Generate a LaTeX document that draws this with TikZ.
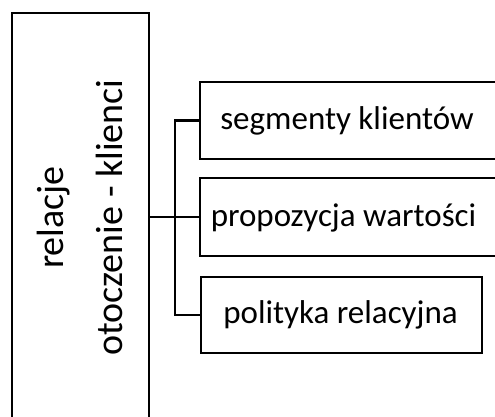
\documentclass[tikz,border=0pt]{standalone}
\usepackage{fontspec}
\setmainfont{Carlito}
\begin{document}
\begin{tikzpicture}[x=1pt,y=-1pt,
  frame/.style={draw=black,line width=2.9pt,rectangle,inner sep=0pt},
  link/.style={draw=black,line width=2.9pt},
  sidetext/.style={font=\fontsize{38}{44}\selectfont,rotate=90,anchor=base,inner sep=0pt},
  itemtext/.style={font=\fontsize{33}{39}\selectfont,anchor=base,inner sep=0pt}]
\useasboundingbox (0,0) rectangle (495,417);
\begin{scope}
\clip (0,0) rectangle (495,417);
% tall box on the left
\node[frame,minimum width=137pt,minimum height=420pt] (rel) at (80.5,223) {};
\node[sidetext] (l1) at (63,217.5) {relacje};
\node[sidetext] (l2) at (122,217.5) {otoczenie - klienci};
% three boxes on the right
\node[frame,minimum width=298pt,minimum height=77pt] (b1) at (349,120.5) {};
\node[frame,minimum width=298pt,minimum height=78pt] (b2) at (349,217) {};
\node[frame,minimum width=281pt,minimum height=76pt] (b3) at (341.5,315) {};
\node[itemtext] (t1) at (347,129) {segmenty klientów};
\node[itemtext] (t2) at (343.5,226) {propozycja wartości};
\node[itemtext] (t3) at (340.5,323) {polityka relacyjna};
% connectors
\coordinate (spine) at (175,217);
\draw[link] (rel.east |- b2.west) -- (b2.west);
\draw[link] (b1.west) -| (spine) |- (b3.west);
\end{scope}
\end{tikzpicture}
\end{document}
